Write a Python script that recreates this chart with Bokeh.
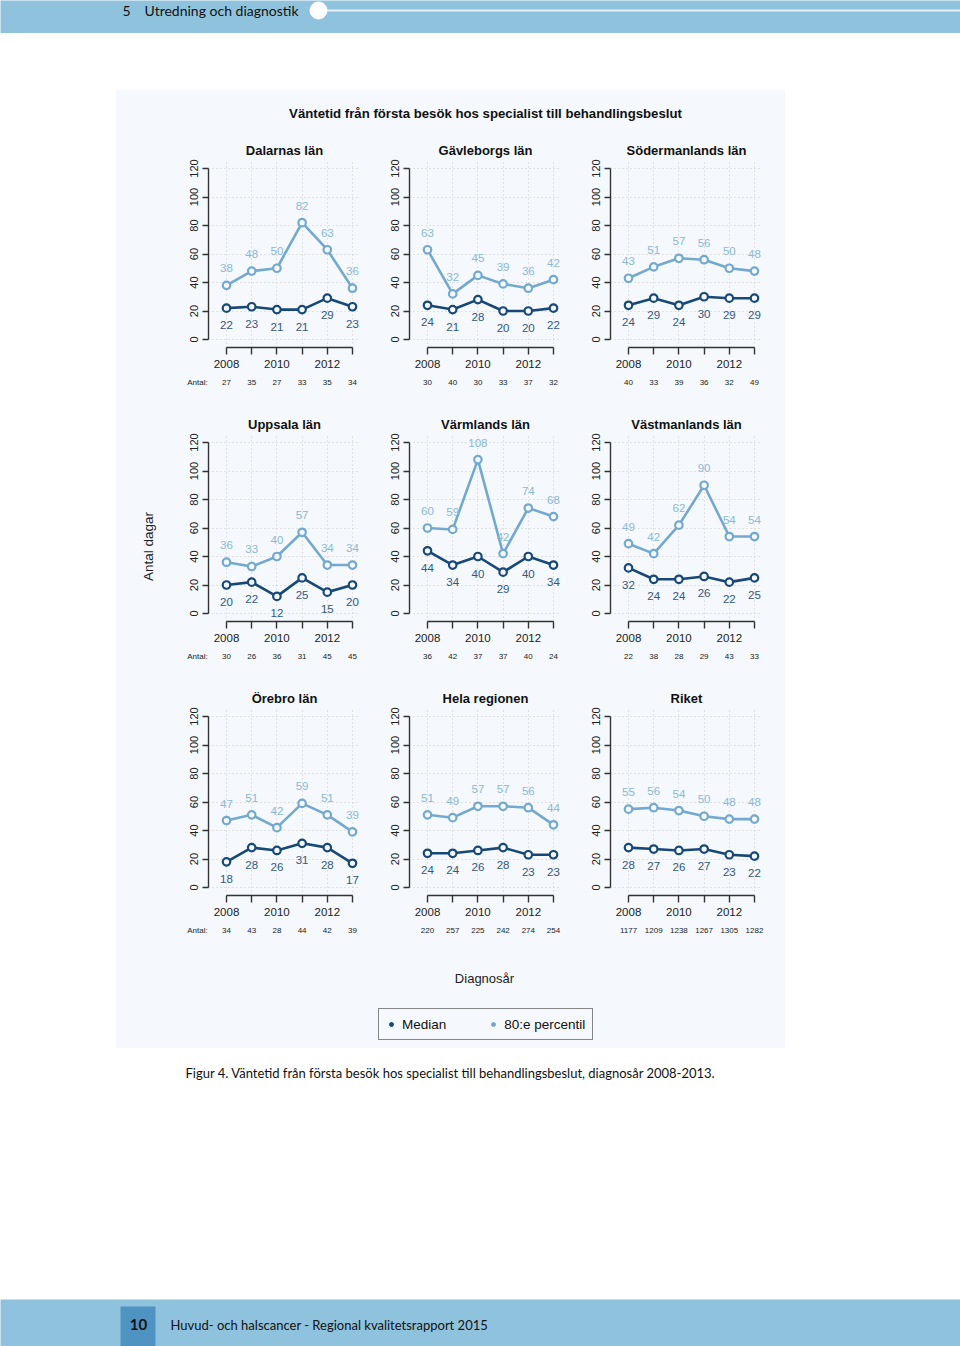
import math
from bokeh.plotting import figure
from bokeh.layouts import row, column
from bokeh.models import (Range1d, FixedTicker, Legend, LegendItem,
                          ColumnDataSource, Spacer)
from bokeh.core.properties import value
from bokeh.embed import file_html
from bokeh.resources import INLINE

# ---------------- data ----------------
years = [2008, 2009, 2010, 2011, 2012, 2013]
y_ticks = [0, 20, 40, 60, 80, 100, 120]

names = ["Dalarnas län", "Gävleborgs län", "Södermanlands län",
         "Uppsala län", "Värmlands län", "Västmanlands län",
         "Örebro län", "Hela regionen", "Riket"]

p80_dalarna = [38, 48, 50, 82, 63, 36]
med_dalarna = [22, 23, 21, 21, 29, 23]
antal_dalarna = [27, 35, 27, 33, 35, 34]

p80_gavleborg = [63, 32, 45, 39, 36, 42]
med_gavleborg = [24, 21, 28, 20, 20, 22]
antal_gavleborg = [30, 40, 30, 33, 37, 32]

p80_sodermanland = [43, 51, 57, 56, 50, 48]
med_sodermanland = [24, 29, 24, 30, 29, 29]
antal_sodermanland = [40, 33, 39, 36, 32, 49]

p80_uppsala = [36, 33, 40, 57, 34, 34]
med_uppsala = [20, 22, 12, 25, 15, 20]
antal_uppsala = [30, 26, 36, 31, 45, 45]

p80_varmland = [60, 59, 108, 42, 74, 68]
med_varmland = [44, 34, 40, 29, 40, 34]
antal_varmland = [36, 42, 37, 37, 40, 24]

p80_vastmanland = [49, 42, 62, 90, 54, 54]
med_vastmanland = [32, 24, 24, 26, 22, 25]
antal_vastmanland = [22, 38, 28, 29, 43, 33]

p80_orebro = [47, 51, 42, 59, 51, 39]
med_orebro = [18, 28, 26, 31, 28, 17]
antal_orebro = [34, 43, 28, 44, 42, 39]

p80_region = [51, 49, 57, 57, 56, 44]
med_region = [24, 24, 26, 28, 23, 23]
antal_region = [220, 257, 225, 242, 274, 254]

p80_riket = [55, 56, 54, 50, 48, 48]
med_riket = [28, 27, 26, 27, 23, 22]
antal_riket = [1177, 1209, 1238, 1267, 1305, 1282]

p80_all = [p80_dalarna, p80_gavleborg, p80_sodermanland, p80_uppsala, p80_varmland,
           p80_vastmanland, p80_orebro, p80_region, p80_riket]
med_all = [med_dalarna, med_gavleborg, med_sodermanland, med_uppsala, med_varmland,
           med_vastmanland, med_orebro, med_region, med_riket]
antal_all = [antal_dalarna, antal_gavleborg, antal_sodermanland, antal_uppsala, antal_varmland,
             antal_vastmanland, antal_orebro, antal_region, antal_riket]

main_title = "Väntetid från första besök hos specialist till behandlingsbeslut"
y_label = "Antal dagar"
x_label = "Diagnosår"
antal_label = "Antal:"
legend_labels = ["Median", "80:e percentil"]
caption = "Figur 4. Väntetid från första besök hos specialist till behandlingsbeslut, diagnosår 2008-2013."
header_num = "5"
header_text = "Utredning och diagnostik"
footer_num = "10"
footer_text = "Huvud- och halscancer - Regional kvalitetsrapport 2015"

# ---------------- style ----------------
BG = "#f5f9fd"
BAND = "#8fc3dd"
BAND_DARK = "#4f93c3"
DARK = "#174878"
DARK_TXT = "#34577f"
LIGHT = "#74a9cf"
LIGHT_TXT = "#8bb8d6"
AXIS = "#333333"
FONT = "Liberation Sans"
DOC_FONT = "Lato"

PW, PH, STRIP_H = 201, 240, 34
BL, BR, BT, BB = 32, 17, 24, 28
PX_YR, PX_UNIT = 25.2, 1.425
LEFT_PAD_PX, ZERO_PAD_PX = 18, 8
LABEL_OFF = 17
ANTAL_POS = years[0] - 29 / PX_YR
ANTAL_Y = 7


def blank(w, h, color):
    p = figure(width=w, height=h, x_range=Range1d(0, w), y_range=Range1d(h, 0),
               output_backend="svg", toolbar_location=None, min_border=0,
               background_fill_color=color, border_fill_color=color,
               outline_line_color=None, x_axis_type=None, y_axis_type=None,
               frame_align=False)
    return p


def panel(name, p80, med):
    fw = PW - BL - BR
    fh = PH - BT - BB
    x0 = years[0] - LEFT_PAD_PX / PX_YR
    y0 = -ZERO_PAD_PX / PX_UNIT
    p = figure(width=PW, height=PH, title=name,
               x_range=Range1d(x0, x0 + fw / PX_YR),
               y_range=Range1d(y0, y0 + fh / PX_UNIT),
               output_backend="svg", toolbar_location=None,
               min_border_left=BL, min_border_right=BR,
               min_border_top=BT, min_border_bottom=BB,
               background_fill_color=BG, border_fill_color=BG,
               outline_line_color=None)
    p.title.text_font = FONT
    p.title.text_font_size = "13px"
    p.title.align = "center"
    p.title.standoff = 4
    p.title.text_color = "#111111"

    xa = p.xaxis[0]
    xa.ticker = FixedTicker(ticks=years)
    xa.bounds = (years[0], years[-1])
    xa.major_label_overrides = {yr: (str(yr) if i % 2 == 0 else "") for i, yr in enumerate(years)}
    xa.major_tick_out = 7
    xa.major_tick_in = 0
    xa.minor_tick_line_color = None
    xa.axis_line_color = AXIS
    xa.axis_line_width = 1.4
    xa.major_tick_line_color = AXIS
    xa.major_tick_line_width = 1.4
    xa.major_label_text_font = FONT
    xa.major_label_text_font_size = "11.5px"
    xa.major_label_text_color = "#222222"
    xa.major_label_standoff = 5

    ya = p.yaxis[0]
    ya.ticker = FixedTicker(ticks=y_ticks)
    ya.bounds = (y_ticks[0], y_ticks[-1])
    ya.major_label_orientation = "vertical"
    ya.major_tick_out = 6
    ya.major_tick_in = 0
    ya.minor_tick_line_color = None
    ya.axis_line_color = AXIS
    ya.axis_line_width = 1.4
    ya.major_tick_line_color = AXIS
    ya.major_tick_line_width = 1.4
    ya.major_label_text_font = FONT
    ya.major_label_text_font_size = "11px"
    ya.major_label_text_color = "#222222"
    ya.major_label_standoff = 5

    p.xgrid.ticker = FixedTicker(ticks=years)
    p.ygrid.ticker = FixedTicker(ticks=y_ticks)
    for g in (p.xgrid, p.ygrid):
        g.grid_line_color = "#c8c8c8"
        g.grid_line_dash = "1 3"
        g.grid_line_width = 1

    src = ColumnDataSource(dict(year=years, p80=p80, med=med,
                                lp80=[str(v) for v in p80], lmed=[str(v) for v in med]))
    for col, lcol, tcol, off in (("p80", LIGHT, LIGHT_TXT, -LABEL_OFF),
                                 ("med", DARK, DARK_TXT, LABEL_OFF)):
        p.line("year", col, source=src, line_color=lcol, line_width=2.6)
        p.scatter("year", col, source=src, size=7.5, line_color=lcol, line_width=2.2,
                  fill_color=BG)
        p.text("year", col, text="l" + col, source=src, y_offset=off,
               text_align="center", text_baseline="middle", text_color=tcol,
               text_font=value(FONT), text_font_size="11.5px")
    return p


def antal_strip(antal, first_col):
    # same horizontal year scale as the panel above it (frame spans the whole strip)
    x0 = years[0] - (BL + LEFT_PAD_PX) / PX_YR
    s = figure(width=PW, height=STRIP_H, x_range=Range1d(x0, x0 + PW / PX_YR),
               y_range=Range1d(STRIP_H, 0), output_backend="svg", toolbar_location=None,
               min_border=0, background_fill_color=BG, border_fill_color=BG,
               outline_line_color=None, x_axis_type=None, y_axis_type=None,
               frame_align=False)
    xs = list(years)
    labels = [str(n) for n in antal]
    if first_col:
        xs = [ANTAL_POS] + xs
        labels = [antal_label] + labels
    s.text(x=xs, y=[ANTAL_Y] * len(xs), text=labels, text_align="center",
           text_baseline="middle", text_font=value(FONT), text_font_size="8px",
           text_color="#222222")
    return s


# ---------------- header ----------------
header = blank(960, 33, BAND)
header.text(x=[122], y=[10], text=[header_num], text_font=value(DOC_FONT),
            text_font_size="14px", text_color="#111111", text_baseline="middle")
header.text(x=[144], y=[10], text=[header_text], text_font=value(DOC_FONT),
            text_font_size="14px", text_color="#111111", text_baseline="middle")
header.segment(x0=[326], y0=[10], x1=[960], y1=[10], line_color="#e6f2f8", line_width=2)
header.scatter(x=[318], y=[10], size=17, fill_color="white", line_color="white")

# ---------------- panel block ----------------
title_fig = blank(669, 45, BG)
title_fig.text(x=[369], y=[23], text=[main_title], text_font=value(FONT),
               text_font_size="13.2px", text_font_style="bold", text_color="#111111",
               text_align="center", text_baseline="middle")

bgstyle = {"background-color": BG}
rows = []
for r in range(3):
    cells = []
    for c in range(3):
        k = r * 3 + c
        cells.append(column(panel(names[k], p80_all[k], med_all[k]),
                            antal_strip(antal_all[k], c == 0), styles=bgstyle))
    rows.append(row(*cells, styles=bgstyle))
grid = column(*rows, styles=bgstyle)

left_fig = blank(60, 822, BG)
left_fig.text(x=[32], y=[411], text=[y_label], angle=math.pi / 2, text_font=value(FONT),
              text_font_size="13.5px", text_color="#222222", text_align="center",
              text_baseline="middle")
right_pad = blank(6, 822, BG)

bottom_fig = blank(669, 91, BG)
bottom_fig.text(x=[368], y=[21], text=[x_label], text_font=value(FONT),
                text_font_size="13px", text_color="#222222", text_align="center",
                text_baseline="middle")
r_med = bottom_fig.scatter(x=[-1000], y=[-1000], size=6, fill_color=DARK, line_color=DARK)
r_p80 = bottom_fig.scatter(x=[-1000], y=[-1000], size=6, fill_color=LIGHT, line_color=LIGHT)
legend = Legend(items=[LegendItem(label=legend_labels[0], renderers=[r_med]),
                       LegendItem(label=legend_labels[1], renderers=[r_p80])],
                orientation="horizontal", location=(262, 8),
                border_line_color="#111111", border_line_width=1.2,
                background_fill_color=BG, background_fill_alpha=1,
                padding=7, spacing=42, glyph_width=10, glyph_height=16,
                label_standoff=6, label_text_font=FONT, label_text_font_size="13.5px",
                label_text_color="#111111", margin=0)
bottom_fig.add_layout(legend)

panel_block = column(title_fig, row(left_fig, grid, right_pad, styles=bgstyle), bottom_fig,
                     styles=bgstyle)
body = row(Spacer(width=116, height=958), panel_block, Spacer(width=175, height=958))

# ---------------- caption / footer ----------------
cap_fig = blank(960, 251, "white")
cap_fig.text(x=[185], y=[24], text=[caption], text_font=value(DOC_FONT),
             text_font_size="13px", text_color="#111111", text_baseline="middle")

footer = blank(960, 47, BAND)
footer.quad(left=[120], right=[155], top=[7], bottom=[47], fill_color=BAND_DARK,
            line_color=None)
footer.text(x=[138], y=[25], text=[footer_num], text_font=value(DOC_FONT),
            text_font_size="15px", text_font_style="bold", text_color="#111111",
            text_align="center", text_baseline="middle")
footer.text(x=[170], y=[25], text=[footer_text], text_font=value(DOC_FONT),
            text_font_size="13px", text_color="#111111", text_baseline="middle")

root = column(header, Spacer(width=960, height=57), body, cap_fig, footer)

open("out.html", "w").write(file_html(root, INLINE))
